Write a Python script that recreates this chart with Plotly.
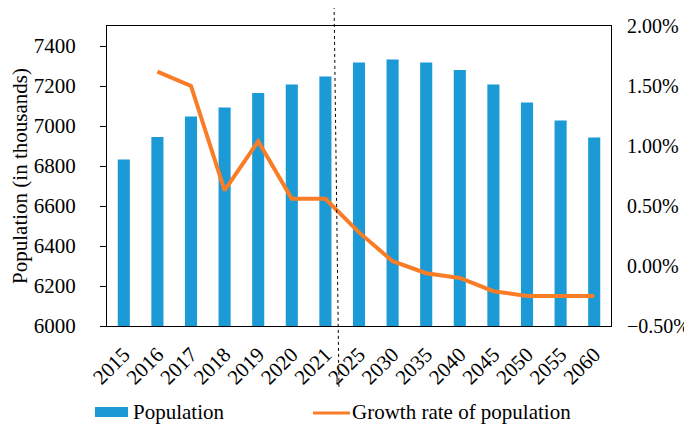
import plotly.graph_objects as go

years = ['2015', '2016', '2017', '2018', '2019', '2020', '2021', '2025',
         '2030', '2035', '2040', '2045', '2050', '2055', '2060']
population = [6833, 6945, 7048, 7092, 7165, 7207, 7248, 7317,
              7333, 7317, 7280, 7207, 7117, 7028, 6942]
growth_rate = [None, 0.0162, 0.0150, 0.0063, 0.0104, 0.0056, 0.0056, 0.0028,
               0.0004, -0.0006, -0.0010, -0.0021, -0.0025, -0.0025, -0.0025]

BLUE = '#1B9AD6'
ORANGE = '#F97D26'
FONT = 'Times New Roman'
FS = 21

fig = go.Figure()

fig.add_trace(go.Bar(x=years, y=population, name='Population',
                     marker=dict(color=BLUE, line=dict(width=0)),
                     width=0.36))
fig.add_trace(go.Scatter(x=years, y=growth_rate, name='Growth rate of population',
                         mode='lines', yaxis='y2',
                         line=dict(color=ORANGE, width=4)))

# dashed divider between observed and projected years
fig.add_shape(type='line', xref='paper', yref='paper',
              x0=0.4504, y0=1.087, x1=0.4603, y1=-0.207,
              line=dict(color='black', width=1, dash='3px,3px'))

# legend drawn by hand so the bar key can be a wide block
fig.add_shape(type='rect', xref='paper', yref='paper',
              x0=-0.0238, x1=0.0417, y0=-0.27, y1=-0.303,
              fillcolor=BLUE, line=dict(width=0))
fig.add_shape(type='line', xref='paper', yref='paper',
              x0=0.4087, x1=0.4821, y0=-0.29, y1=-0.29,
              line=dict(color=ORANGE, width=3))
fig.add_annotation(text='Population', xref='paper', yref='paper',
                   x=0.047, y=-0.287, xanchor='left', yanchor='middle',
                   showarrow=False, font=dict(size=FS, family=FONT))
fig.add_annotation(text='Growth rate of population', xref='paper', yref='paper',
                   x=0.483, y=-0.287, xanchor='left', yanchor='middle',
                   showarrow=False, font=dict(size=FS, family=FONT))

# page body has an 8px margin, so the figure is drawn 8px smaller on top/left
fig.update_layout(
    width=684, height=417,
    margin=dict(l=99, r=81, t=18, b=99),
    paper_bgcolor='white', plot_bgcolor='white',
    font=dict(family=FONT, size=FS, color='black'),
    showlegend=False,
    xaxis=dict(type='category', tickangle=-45, showline=True, linecolor='black',
               linewidth=1, mirror=True, ticks='', showgrid=False,
               automargin=False, ticklabelstandoff=7,
               tickfont=dict(size=FS, family=FONT)),
    yaxis=dict(range=[6000, 7500], dtick=200, showgrid=False, zeroline=False,
               showline=True, linecolor='black', linewidth=1, mirror=True,
               ticks='outside', ticklen=6, tickcolor='black', automargin=False,
               ticklabelstandoff=20, tickfont=dict(size=FS, family=FONT),
               title=dict(text='Population (in thousands)', standoff=14,
                          font=dict(size=FS, family=FONT))),
    yaxis2=dict(range=[-0.005, 0.02], dtick=0.005, tickformat='.2%',
                overlaying='y', side='right', showgrid=False, zeroline=False,
                showline=False, ticks='', automargin=False, ticklabelstandoff=15,
                tickfont=dict(size=20, family=FONT)),
)

fig.write_html('out.html')
